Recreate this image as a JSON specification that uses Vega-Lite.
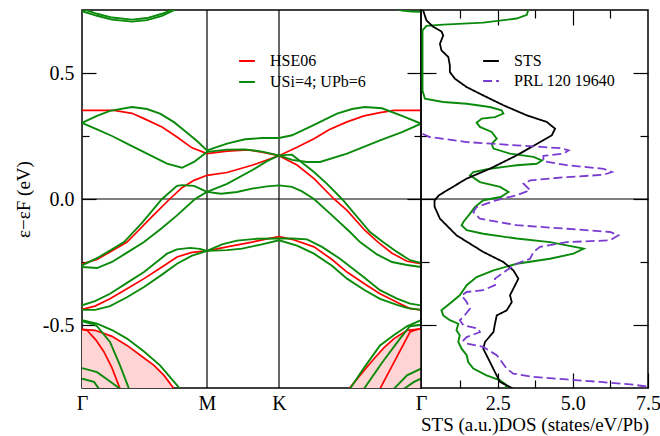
{
 "$schema": "https://vega.github.io/schema/vega-lite/v6.json",
 "padding": {"left": 13, "top": 8, "right": 2, "bottom": 0},
 "spacing": 0,
 "bounds": "flush",
 "config": {
  "view": {"stroke": "black", "strokeWidth": 1.5},
  "font": "Liberation Serif",
  "axis": {"domain": false, "grid": false, "tickColor": "black", "tickWidth": 1.2, "labelFont": "Liberation Serif", "labelFontSize": 20, "labelColor": "black", "titleFont": "Liberation Serif", "titleFontSize": 20, "titleFontWeight": "normal", "titleColor": "black", "labelFlush": false, "labelOverlap": false},
  "legend": {"labelFont": "Liberation Serif", "labelFontSize": 16, "labelColor": "black"},
  "text": {"font": "Liberation Serif"}
 },
 "datasets": {
  "pink": [
   {"p":"a","k":0,"e":-0.517},{"p":"a","k":0.13,"e":-0.521},{"p":"a","k":0.3,"e":-0.545},{"p":"a","k":0.45,"e":-0.581},{"p":"a","k":0.6,"e":-0.625},{"p":"a","k":0.72,"e":-0.66},{"p":"a","k":0.82,"e":-0.7},{"p":"a","k":0.92,"e":-0.753},
   {"p":"b","k":2.67,"e":-0.753},{"p":"b","k":2.8,"e":-0.69},{"p":"b","k":2.92,"e":-0.634},{"p":"b","k":3.02,"e":-0.59},{"p":"b","k":3.12,"e":-0.554},{"p":"b","k":3.25,"e":-0.521},{"p":"b","k":3.39,"e":-0.515}
  ],
  "bands": [
   {"m":"H","b":"R1","k":0,"e":0.352},{"m":"H","b":"R1","k":0.32,"e":0.352},{"m":"H","b":"R1","k":0.5,"e":0.34},{"m":"H","b":"R1","k":0.62,"e":0.319},{"m":"H","b":"R1","k":0.8,"e":0.286},{"m":"H","b":"R1","k":0.95,"e":0.246},{"m":"H","b":"R1","k":1.1,"e":0.203},{"m":"H","b":"R1","k":1.25,"e":0.18},{"m":"H","b":"R1","k":1.45,"e":0.19},{"m":"H","b":"R1","k":1.66,"e":0.195},{"m":"H","b":"R1","k":1.8,"e":0.186},{"m":"H","b":"R1","k":1.97,"e":0.172},{"m":"H","b":"R1","k":2.15,"e":0.205},{"m":"H","b":"R1","k":2.32,"e":0.239},{"m":"H","b":"R1","k":2.47,"e":0.275},{"m":"H","b":"R1","k":2.65,"e":0.306},{"m":"H","b":"R1","k":2.82,"e":0.33},{"m":"H","b":"R1","k":2.98,"e":0.343},{"m":"H","b":"R1","k":3.12,"e":0.352},{"m":"H","b":"R1","k":3.39,"e":0.352},
   {"m":"H","b":"R2","k":0,"e":-0.257},{"m":"H","b":"R2","k":0.15,"e":-0.24},{"m":"H","b":"R2","k":0.28,"e":-0.21},{"m":"H","b":"R2","k":0.45,"e":-0.171},{"m":"H","b":"R2","k":0.55,"e":-0.131},{"m":"H","b":"R2","k":0.7,"e":-0.07},{"m":"H","b":"R2","k":0.88,"e":0.001},{"m":"H","b":"R2","k":1,"e":0.045},{"m":"H","b":"R2","k":1.12,"e":0.074},{"m":"H","b":"R2","k":1.25,"e":0.094},{"m":"H","b":"R2","k":1.45,"e":0.105},{"m":"H","b":"R2","k":1.7,"e":0.134},{"m":"H","b":"R2","k":1.85,"e":0.155},{"m":"H","b":"R2","k":1.97,"e":0.172},{"m":"H","b":"R2","k":2.15,"e":0.135},{"m":"H","b":"R2","k":2.32,"e":0.081},{"m":"H","b":"R2","k":2.52,"e":0},{"m":"H","b":"R2","k":2.65,"e":-0.045},{"m":"H","b":"R2","k":2.83,"e":-0.125},{"m":"H","b":"R2","k":2.96,"e":-0.171},{"m":"H","b":"R2","k":3.1,"e":-0.215},{"m":"H","b":"R2","k":3.25,"e":-0.247},{"m":"H","b":"R2","k":3.39,"e":-0.257},
   {"m":"H","b":"R3","k":0,"e":-0.438},{"m":"H","b":"R3","k":0.13,"e":-0.425},{"m":"H","b":"R3","k":0.28,"e":-0.396},{"m":"H","b":"R3","k":0.45,"e":-0.356},{"m":"H","b":"R3","k":0.62,"e":-0.316},{"m":"H","b":"R3","k":0.8,"e":-0.27},{"m":"H","b":"R3","k":0.95,"e":-0.23},{"m":"H","b":"R3","k":1.1,"e":-0.212},{"m":"H","b":"R3","k":1.25,"e":-0.206},{"m":"H","b":"R3","k":1.45,"e":-0.19},{"m":"H","b":"R3","k":1.7,"e":-0.171},{"m":"H","b":"R3","k":1.85,"e":-0.158},{"m":"H","b":"R3","k":1.97,"e":-0.149},{"m":"H","b":"R3","k":2.1,"e":-0.16},{"m":"H","b":"R3","k":2.32,"e":-0.19},{"m":"H","b":"R3","k":2.5,"e":-0.24},{"m":"H","b":"R3","k":2.65,"e":-0.29},{"m":"H","b":"R3","k":2.82,"e":-0.335},{"m":"H","b":"R3","k":2.98,"e":-0.376},{"m":"H","b":"R3","k":3.15,"e":-0.41},{"m":"H","b":"R3","k":3.28,"e":-0.435},{"m":"H","b":"R3","k":3.39,"e":-0.44},
   {"m":"H","b":"R4a","k":0,"e":-0.517},{"m":"H","b":"R4a","k":0.13,"e":-0.521},{"m":"H","b":"R4a","k":0.3,"e":-0.545},{"m":"H","b":"R4a","k":0.45,"e":-0.581},{"m":"H","b":"R4a","k":0.6,"e":-0.625},{"m":"H","b":"R4a","k":0.72,"e":-0.66},{"m":"H","b":"R4a","k":0.82,"e":-0.7},{"m":"H","b":"R4a","k":0.92,"e":-0.753},
   {"m":"H","b":"R4b","k":2.67,"e":-0.753},{"m":"H","b":"R4b","k":2.8,"e":-0.69},{"m":"H","b":"R4b","k":2.92,"e":-0.634},{"m":"H","b":"R4b","k":3.02,"e":-0.59},{"m":"H","b":"R4b","k":3.12,"e":-0.554},{"m":"H","b":"R4b","k":3.25,"e":-0.521},{"m":"H","b":"R4b","k":3.39,"e":-0.515},
   {"m":"H","b":"R5a","k":0,"e":-0.517},{"m":"H","b":"R5a","k":0.05,"e":-0.521},{"m":"H","b":"R5a","k":0.14,"e":-0.56},{"m":"H","b":"R5a","k":0.22,"e":-0.607},{"m":"H","b":"R5a","k":0.3,"e":-0.67},{"m":"H","b":"R5a","k":0.38,"e":-0.753},
   {"m":"H","b":"R5b","k":2.98,"e":-0.753},{"m":"H","b":"R5b","k":3.13,"e":-0.64},{"m":"H","b":"R5b","k":3.28,"e":-0.528},{"m":"H","b":"R5b","k":3.35,"e":-0.518},{"m":"H","b":"R5b","k":3.39,"e":-0.515},
   {"m":"U","b":"G1","k":0,"e":0.302},{"m":"U","b":"G1","k":0.15,"e":0.33},{"m":"U","b":"G1","k":0.28,"e":0.35},{"m":"U","b":"G1","k":0.5,"e":0.365},{"m":"U","b":"G1","k":0.65,"e":0.357},{"m":"U","b":"G1","k":0.78,"e":0.339},{"m":"U","b":"G1","k":0.92,"e":0.305},{"m":"U","b":"G1","k":1.02,"e":0.273},{"m":"U","b":"G1","k":1.15,"e":0.23},{"m":"U","b":"G1","k":1.25,"e":0.193},{"m":"U","b":"G1","k":1.45,"e":0.22},{"m":"U","b":"G1","k":1.63,"e":0.237},{"m":"U","b":"G1","k":1.8,"e":0.242},{"m":"U","b":"G1","k":1.97,"e":0.242},{"m":"U","b":"G1","k":2.1,"e":0.253},{"m":"U","b":"G1","k":2.3,"e":0.29},{"m":"U","b":"G1","k":2.55,"e":0.339},{"m":"U","b":"G1","k":2.7,"e":0.357},{"m":"U","b":"G1","k":2.83,"e":0.365},{"m":"U","b":"G1","k":3,"e":0.36},{"m":"U","b":"G1","k":3.2,"e":0.33},{"m":"U","b":"G1","k":3.39,"e":0.299},
   {"m":"U","b":"G2","k":0,"e":0.302},{"m":"U","b":"G2","k":0.15,"e":0.276},{"m":"U","b":"G2","k":0.3,"e":0.25},{"m":"U","b":"G2","k":0.45,"e":0.22},{"m":"U","b":"G2","k":0.65,"e":0.18},{"m":"U","b":"G2","k":0.85,"e":0.14},{"m":"U","b":"G2","k":1,"e":0.124},{"m":"U","b":"G2","k":1.12,"e":0.147},{"m":"U","b":"G2","k":1.25,"e":0.187},{"m":"U","b":"G2","k":1.45,"e":0.196},{"m":"U","b":"G2","k":1.63,"e":0.197},{"m":"U","b":"G2","k":1.8,"e":0.188},{"m":"U","b":"G2","k":1.97,"e":0.173},{"m":"U","b":"G2","k":2.1,"e":0.155},{"m":"U","b":"G2","k":2.25,"e":0.147},{"m":"U","b":"G2","k":2.38,"e":0.147},{"m":"U","b":"G2","k":2.65,"e":0.18},{"m":"U","b":"G2","k":2.98,"e":0.233},{"m":"U","b":"G2","k":3.2,"e":0.265},{"m":"U","b":"G2","k":3.39,"e":0.299},
   {"m":"U","b":"G5","k":0,"e":-0.263},{"m":"U","b":"G5","k":0.15,"e":-0.235},{"m":"U","b":"G5","k":0.3,"e":-0.2},{"m":"U","b":"G5","k":0.42,"e":-0.171},{"m":"U","b":"G5","k":0.6,"e":-0.095},{"m":"U","b":"G5","k":0.8,"e":0},{"m":"U","b":"G5","k":0.95,"e":0.052},{"m":"U","b":"G5","k":1,"e":0.055},{"m":"U","b":"G5","k":1.12,"e":0.052},{"m":"U","b":"G5","k":1.25,"e":0.028},{"m":"U","b":"G5","k":1.39,"e":0.021},{"m":"U","b":"G5","k":1.55,"e":0.028},{"m":"U","b":"G5","k":1.7,"e":0.041},{"m":"U","b":"G5","k":1.85,"e":0.05},{"m":"U","b":"G5","k":1.97,"e":0.054},{"m":"U","b":"G5","k":2.1,"e":0.048},{"m":"U","b":"G5","k":2.2,"e":0.03},{"m":"U","b":"G5","k":2.32,"e":0},{"m":"U","b":"G5","k":2.5,"e":-0.065},{"m":"U","b":"G5","k":2.68,"e":-0.131},{"m":"U","b":"G5","k":2.78,"e":-0.171},{"m":"U","b":"G5","k":2.95,"e":-0.22},{"m":"U","b":"G5","k":3.1,"e":-0.25},{"m":"U","b":"G5","k":3.25,"e":-0.262},{"m":"U","b":"G5","k":3.39,"e":-0.27},
   {"m":"U","b":"G6","k":0,"e":-0.27},{"m":"U","b":"G6","k":0.15,"e":-0.274},{"m":"U","b":"G6","k":0.3,"e":-0.25},{"m":"U","b":"G6","k":0.45,"e":-0.213},{"m":"U","b":"G6","k":0.62,"e":-0.171},{"m":"U","b":"G6","k":0.8,"e":-0.115},{"m":"U","b":"G6","k":0.95,"e":-0.065},{"m":"U","b":"G6","k":1.13,"e":0},{"m":"U","b":"G6","k":1.25,"e":0.028},{"m":"U","b":"G6","k":1.45,"e":0.06},{"m":"U","b":"G6","k":1.7,"e":0.114},{"m":"U","b":"G6","k":1.85,"e":0.15},{"m":"U","b":"G6","k":1.97,"e":0.173},{"m":"U","b":"G6","k":2.1,"e":0.176},{"m":"U","b":"G6","k":2.32,"e":0.107},{"m":"U","b":"G6","k":2.45,"e":0.06},{"m":"U","b":"G6","k":2.6,"e":0},{"m":"U","b":"G6","k":2.88,"e":-0.131},{"m":"U","b":"G6","k":3.01,"e":-0.171},{"m":"U","b":"G6","k":3.15,"e":-0.21},{"m":"U","b":"G6","k":3.28,"e":-0.243},{"m":"U","b":"G6","k":3.39,"e":-0.254},
   {"m":"U","b":"G7","k":0,"e":-0.422},{"m":"U","b":"G7","k":0.13,"e":-0.405},{"m":"U","b":"G7","k":0.28,"e":-0.376},{"m":"U","b":"G7","k":0.45,"e":-0.333},{"m":"U","b":"G7","k":0.62,"e":-0.29},{"m":"U","b":"G7","k":0.85,"e":-0.217},{"m":"U","b":"G7","k":0.95,"e":-0.2},{"m":"U","b":"G7","k":1.08,"e":-0.194},{"m":"U","b":"G7","k":1.18,"e":-0.198},{"m":"U","b":"G7","k":1.25,"e":-0.206},{"m":"U","b":"G7","k":1.4,"e":-0.18},{"m":"U","b":"G7","k":1.55,"e":-0.165},{"m":"U","b":"G7","k":1.75,"e":-0.158},{"m":"U","b":"G7","k":1.97,"e":-0.157},{"m":"U","b":"G7","k":2.1,"e":-0.157},{"m":"U","b":"G7","k":2.25,"e":-0.16},{"m":"U","b":"G7","k":2.4,"e":-0.19},{"m":"U","b":"G7","k":2.58,"e":-0.237},{"m":"U","b":"G7","k":2.8,"e":-0.305},{"m":"U","b":"G7","k":2.98,"e":-0.362},{"m":"U","b":"G7","k":3.15,"e":-0.395},{"m":"U","b":"G7","k":3.28,"e":-0.415},{"m":"U","b":"G7","k":3.39,"e":-0.422},
   {"m":"U","b":"G8","k":0,"e":-0.44},{"m":"U","b":"G8","k":0.13,"e":-0.44},{"m":"U","b":"G8","k":0.28,"e":-0.425},{"m":"U","b":"G8","k":0.45,"e":-0.39},{"m":"U","b":"G8","k":0.62,"e":-0.349},{"m":"U","b":"G8","k":0.8,"e":-0.3},{"m":"U","b":"G8","k":0.95,"e":-0.257},{"m":"U","b":"G8","k":1.1,"e":-0.225},{"m":"U","b":"G8","k":1.25,"e":-0.206},{"m":"U","b":"G8","k":1.45,"e":-0.203},{"m":"U","b":"G8","k":1.6,"e":-0.197},{"m":"U","b":"G8","k":1.8,"e":-0.18},{"m":"U","b":"G8","k":1.97,"e":-0.164},{"m":"U","b":"G8","k":2.15,"e":-0.185},{"m":"U","b":"G8","k":2.32,"e":-0.217},{"m":"U","b":"G8","k":2.5,"e":-0.265},{"m":"U","b":"G8","k":2.65,"e":-0.316},{"m":"U","b":"G8","k":2.82,"e":-0.36},{"m":"U","b":"G8","k":2.98,"e":-0.396},{"m":"U","b":"G8","k":3.15,"e":-0.42},{"m":"U","b":"G8","k":3.25,"e":-0.432},{"m":"U","b":"G8","k":3.39,"e":-0.44},
   {"m":"U","b":"G9a","k":0,"e":-0.481},{"m":"U","b":"G9a","k":0.15,"e":-0.495},{"m":"U","b":"G9a","k":0.3,"e":-0.52},{"m":"U","b":"G9a","k":0.45,"e":-0.554},{"m":"U","b":"G9a","k":0.62,"e":-0.605},{"m":"U","b":"G9a","k":0.78,"e":-0.66},{"m":"U","b":"G9a","k":0.98,"e":-0.753},
   {"m":"U","b":"G9b","k":2.68,"e":-0.753},{"m":"U","b":"G9b","k":2.82,"e":-0.67},{"m":"U","b":"G9b","k":2.98,"e":-0.581},{"m":"U","b":"G9b","k":3.12,"e":-0.54},{"m":"U","b":"G9b","k":3.25,"e":-0.505},{"m":"U","b":"G9b","k":3.39,"e":-0.481},
   {"m":"U","b":"G10a","k":0,"e":-0.485},{"m":"U","b":"G10a","k":0.1,"e":-0.495},{"m":"U","b":"G10a","k":0.15,"e":-0.505},{"m":"U","b":"G10a","k":0.28,"e":-0.567},{"m":"U","b":"G10a","k":0.38,"e":-0.66},{"m":"U","b":"G10a","k":0.47,"e":-0.753},
   {"m":"U","b":"G10b","k":2.82,"e":-0.753},{"m":"U","b":"G10b","k":3,"e":-0.65},{"m":"U","b":"G10b","k":3.18,"e":-0.554},{"m":"U","b":"G10b","k":3.28,"e":-0.505},{"m":"U","b":"G10b","k":3.39,"e":-0.499},
   {"m":"U","b":"G11a","k":0,"e":-0.671},{"m":"U","b":"G11a","k":0.15,"e":-0.687},{"m":"U","b":"G11a","k":0.25,"e":-0.715},{"m":"U","b":"G11a","k":0.38,"e":-0.753},
   {"m":"U","b":"G11b","k":3.12,"e":-0.753},{"m":"U","b":"G11b","k":3.25,"e":-0.7},{"m":"U","b":"G11b","k":3.39,"e":-0.673},
   {"m":"U","b":"G12a","k":0,"e":-0.713},{"m":"U","b":"G12a","k":0.12,"e":-0.726},{"m":"U","b":"G12a","k":0.17,"e":-0.753},
   {"m":"U","b":"G12b","k":3.22,"e":-0.753},{"m":"U","b":"G12b","k":3.32,"e":-0.726},{"m":"U","b":"G12b","k":3.39,"e":-0.713},
   {"m":"U","b":"Gt1","k":0,"e":0.755},{"m":"U","b":"Gt1","k":0.15,"e":0.735},{"m":"U","b":"Gt1","k":0.3,"e":0.72},{"m":"U","b":"Gt1","k":0.5,"e":0.712},{"m":"U","b":"Gt1","k":0.65,"e":0.718},{"m":"U","b":"Gt1","k":0.8,"e":0.735},{"m":"U","b":"Gt1","k":0.95,"e":0.758},
   {"m":"U","b":"Gt2","k":0,"e":0.745},{"m":"U","b":"Gt2","k":0.15,"e":0.727},{"m":"U","b":"Gt2","k":0.3,"e":0.712},{"m":"U","b":"Gt2","k":0.5,"e":0.704},{"m":"U","b":"Gt2","k":0.65,"e":0.71},{"m":"U","b":"Gt2","k":0.8,"e":0.727},{"m":"U","b":"Gt2","k":0.95,"e":0.755},
   {"m":"U","b":"Gt3","k":3.1,"e":0.76},{"m":"U","b":"Gt3","k":3.2,"e":0.748},{"m":"U","b":"Gt3","k":3.3,"e":0.744},{"m":"U","b":"Gt3","k":3.39,"e":0.743}
  ],
  "dos": [
   {"s":"STS","d":0.02,"e":0.749},{"s":"STS","d":0.13,"e":0.709},{"s":"STS","d":0.36,"e":0.683},{"s":"STS","d":0.63,"e":0.665},{"s":"STS","d":0.69,"e":0.649},{"s":"STS","d":0.58,"e":0.616},{"s":"STS","d":0.63,"e":0.59},{"s":"STS","d":0.86,"e":0.563},{"s":"STS","d":0.91,"e":0.53},{"s":"STS","d":0.91,"e":0.504},{"s":"STS","d":1.08,"e":0.477},{"s":"STS","d":1.47,"e":0.444},{"s":"STS","d":2.02,"e":0.411},{"s":"STS","d":2.69,"e":0.372},{"s":"STS","d":3.47,"e":0.332},{"s":"STS","d":4.13,"e":0.306},{"s":"STS","d":4.41,"e":0.279},{"s":"STS","d":4.3,"e":0.253},{"s":"STS","d":3.91,"e":0.226},{"s":"STS","d":3.13,"e":0.173},{"s":"STS","d":2.24,"e":0.12},{"s":"STS","d":1.47,"e":0.081},{"s":"STS","d":0.91,"e":0.041},{"s":"STS","d":0.55,"e":0.015},{"s":"STS","d":0.4,"e":-0.005},{"s":"STS","d":0.4,"e":-0.03},{"s":"STS","d":0.58,"e":-0.078},{"s":"STS","d":1.13,"e":-0.144},{"s":"STS","d":2.02,"e":-0.21},{"s":"STS","d":2.69,"e":-0.25},{"s":"STS","d":3.02,"e":-0.283},{"s":"STS","d":3.19,"e":-0.316},{"s":"STS","d":3.02,"e":-0.356},{"s":"STS","d":2.91,"e":-0.382},{"s":"STS","d":2.97,"e":-0.409},{"s":"STS","d":2.8,"e":-0.442},{"s":"STS","d":2.47,"e":-0.462},{"s":"STS","d":2.41,"e":-0.495},{"s":"STS","d":2.36,"e":-0.528},{"s":"STS","d":2.08,"e":-0.567},{"s":"STS","d":2.02,"e":-0.594},{"s":"STS","d":2.19,"e":-0.634},{"s":"STS","d":2.41,"e":-0.687},{"s":"STS","d":2.58,"e":-0.726},{"s":"STS","d":3.02,"e":-0.753},
   {"s":"PRL 120 19640","d":0,"e":0.259},{"s":"PRL 120 19640","d":0.24,"e":0.246},{"s":"PRL 120 19640","d":1.47,"e":0.226},{"s":"PRL 120 19640","d":3.13,"e":0.213},{"s":"PRL 120 19640","d":4.58,"e":0.202},{"s":"PRL 120 19640","d":4.86,"e":0.193},{"s":"PRL 120 19640","d":4.69,"e":0.18},{"s":"PRL 120 19640","d":4.02,"e":0.171},{"s":"PRL 120 19640","d":4.02,"e":0.15},{"s":"PRL 120 19640","d":4.8,"e":0.134},{"s":"PRL 120 19640","d":6.02,"e":0.12},{"s":"PRL 120 19640","d":6.3,"e":0.107},{"s":"PRL 120 19640","d":6.02,"e":0.096},{"s":"PRL 120 19640","d":4.8,"e":0.087},{"s":"PRL 120 19640","d":3.58,"e":0.074},{"s":"PRL 120 19640","d":3.36,"e":0.061},{"s":"PRL 120 19640","d":3.58,"e":0.035},{"s":"PRL 120 19640","d":3.13,"e":0.015},{"s":"PRL 120 19640","d":2.45,"e":-0.005},{"s":"PRL 120 19640","d":1.8,"e":-0.032},{"s":"PRL 120 19640","d":1.69,"e":-0.052},{"s":"PRL 120 19640","d":1.91,"e":-0.078},{"s":"PRL 120 19640","d":3.13,"e":-0.104},{"s":"PRL 120 19640","d":4.8,"e":-0.118},{"s":"PRL 120 19640","d":6.24,"e":-0.131},{"s":"PRL 120 19640","d":6.52,"e":-0.144},{"s":"PRL 120 19640","d":6.24,"e":-0.164},{"s":"PRL 120 19640","d":4.8,"e":-0.171},{"s":"PRL 120 19640","d":3.91,"e":-0.19},{"s":"PRL 120 19640","d":3.69,"e":-0.21},{"s":"PRL 120 19640","d":3.58,"e":-0.237},{"s":"PRL 120 19640","d":3.13,"e":-0.257},{"s":"PRL 120 19640","d":2.8,"e":-0.283},{"s":"PRL 120 19640","d":2.41,"e":-0.316},{"s":"PRL 120 19640","d":2.41,"e":-0.342},{"s":"PRL 120 19640","d":2.02,"e":-0.362},{"s":"PRL 120 19640","d":1.47,"e":-0.369},{"s":"PRL 120 19640","d":1.3,"e":-0.382},{"s":"PRL 120 19640","d":1.47,"e":-0.409},{"s":"PRL 120 19640","d":1.58,"e":-0.435},{"s":"PRL 120 19640","d":1.36,"e":-0.468},{"s":"PRL 120 19640","d":1.24,"e":-0.481},{"s":"PRL 120 19640","d":1.36,"e":-0.501},{"s":"PRL 120 19640","d":1.86,"e":-0.515},{"s":"PRL 120 19640","d":1.91,"e":-0.528},{"s":"PRL 120 19640","d":1.47,"e":-0.548},{"s":"PRL 120 19640","d":1.36,"e":-0.561},{"s":"PRL 120 19640","d":1.47,"e":-0.574},{"s":"PRL 120 19640","d":2.02,"e":-0.587},{"s":"PRL 120 19640","d":2.47,"e":-0.62},{"s":"PRL 120 19640","d":2.8,"e":-0.673},{"s":"PRL 120 19640","d":3.02,"e":-0.693},{"s":"PRL 120 19640","d":3.69,"e":-0.706},{"s":"PRL 120 19640","d":4.8,"e":-0.716},{"s":"PRL 120 19640","d":5.91,"e":-0.726},{"s":"PRL 120 19640","d":7.02,"e":-0.737},{"s":"PRL 120 19640","d":7.5,"e":-0.745},
   {"s":"U","d":3.52,"e":0.752},{"s":"U","d":3.47,"e":0.731},{"s":"U","d":3.13,"e":0.716},{"s":"U","d":2.02,"e":0.7},{"s":"U","d":0.69,"e":0.692},{"s":"U","d":0.13,"e":0.687},{"s":"U","d":0,"e":0.669},{"s":"U","d":0,"e":0.43},{"s":"U","d":0.08,"e":0.398},{"s":"U","d":0.69,"e":0.385},{"s":"U","d":1.47,"e":0.378},{"s":"U","d":2.24,"e":0.365},{"s":"U","d":2.63,"e":0.352},{"s":"U","d":2.69,"e":0.339},{"s":"U","d":2.41,"e":0.325},{"s":"U","d":1.97,"e":0.319},{"s":"U","d":1.8,"e":0.303},{"s":"U","d":1.91,"e":0.286},{"s":"U","d":2.3,"e":0.266},{"s":"U","d":2.47,"e":0.239},{"s":"U","d":2.3,"e":0.219},{"s":"U","d":2.36,"e":0.2},{"s":"U","d":2.91,"e":0.18},{"s":"U","d":3.69,"e":0.167},{"s":"U","d":3.97,"e":0.153},{"s":"U","d":3.8,"e":0.14},{"s":"U","d":3.13,"e":0.134},{"s":"U","d":2.24,"e":0.12},{"s":"U","d":1.69,"e":0.107},{"s":"U","d":1.58,"e":0.094},{"s":"U","d":1.91,"e":0.067},{"s":"U","d":2.58,"e":0.048},{"s":"U","d":2.86,"e":0.028},{"s":"U","d":2.6,"e":0.008},{"s":"U","d":2.02,"e":-0.005},{"s":"U","d":1.74,"e":-0.032},{"s":"U","d":1.58,"e":-0.058},{"s":"U","d":1.36,"e":-0.091},{"s":"U","d":1.3,"e":-0.104},{"s":"U","d":1.47,"e":-0.124},{"s":"U","d":2.02,"e":-0.138},{"s":"U","d":3.13,"e":-0.157},{"s":"U","d":4.24,"e":-0.171},{"s":"U","d":5.36,"e":-0.197},{"s":"U","d":5.02,"e":-0.217},{"s":"U","d":4.24,"e":-0.237},{"s":"U","d":3.13,"e":-0.257},{"s":"U","d":2.36,"e":-0.283},{"s":"U","d":1.8,"e":-0.31},{"s":"U","d":1.47,"e":-0.342},{"s":"U","d":1.24,"e":-0.382},{"s":"U","d":0.91,"e":-0.415},{"s":"U","d":0.63,"e":-0.442},{"s":"U","d":0.69,"e":-0.462},{"s":"U","d":0.91,"e":-0.481},{"s":"U","d":1.19,"e":-0.495},{"s":"U","d":1.13,"e":-0.521},{"s":"U","d":1.24,"e":-0.541},{"s":"U","d":1.19,"e":-0.567},{"s":"U","d":1.3,"e":-0.594},{"s":"U","d":1.47,"e":-0.62},{"s":"U","d":1.52,"e":-0.647},{"s":"U","d":1.69,"e":-0.673},{"s":"U","d":2.13,"e":-0.7},{"s":"U","d":2.58,"e":-0.72},{"s":"U","d":2.8,"e":-0.739},{"s":"U","d":2.74,"e":-0.753}
  ]
 },
 "hconcat": [
  {
   "width": 339, "height": 378,
   "layer": [
    {"data": {"name": "pink"}, "mark": {"type": "area", "color": "#ffd4d4", "clip": true},
     "encoding": {
      "x": {"field": "k", "type": "quantitative", "scale": {"domain": [0, 3.39], "nice": false, "zero": false},
            "axis": {"orient": "bottom", "values": [0, 1.25, 1.97, 3.39], "ticks": false, "labelPadding": 5, "labelFont": "Liberation Serif", "labelFontSize": 20, "title": null,
                     "labelExpr": "datum.value < 0.1 || datum.value > 3 ? 'Γ' : (datum.value < 1.5 ? 'M' : 'K')"}},
      "y": {"field": "e", "type": "quantitative", "scale": {"domain": [-0.75, 0.75], "nice": false, "zero": false},
            "axis": {"orient": "left", "values": [-0.5, 0, 0.5], "tickSize": -14, "labelPadding": 22, "labelFont": "Liberation Serif", "labelFontSize": 20,
                     "title": "ε−εF (eV)", "titleFont": "Liberation Serif", "titleFontSize": 19, "titlePadding": 9,
                     "labelExpr": "(datum.value < 0 ? '-' : '') + format(abs(datum.value), '.1f')"}},
      "y2": {"datum": -0.75},
      "detail": {"field": "p"}
     }},
    {"data": {"values": [{"k": 1.25}, {"k": 1.97}]}, "mark": {"type": "rule", "color": "black", "strokeWidth": 1.2},
     "encoding": {"x": {"field": "k", "type": "quantitative", "axis": null}}},
    {"data": {"values": [{"e": 0}]}, "mark": {"type": "rule", "color": "black", "strokeWidth": 1.2},
     "encoding": {"y": {"field": "e", "type": "quantitative", "axis": {"orient": "left", "values": [-0.25, 0.25], "tickSize": -7, "labels": false, "title": null}}}},
    {"data": {"name": "bands"}, "transform": [{"filter": "datum.m == 'H'"}], "mark": {"type": "line", "strokeWidth": 1.7, "clip": true},
     "encoding": {
      "x": {"field": "k", "type": "quantitative", "axis": null},
      "y": {"field": "e", "type": "quantitative", "axis": {"orient": "right", "values": [-0.5, 0, 0.5], "tickSize": -14, "labels": false, "title": null}},
      "color": {"field": "m", "type": "nominal", "scale": {"domain": ["H", "U"], "range": ["#ff0000", "#0a8a0a"]},
                "legend": {"orient": "none", "legendX": 156, "legendY": 42, "title": null, "symbolType": "stroke", "symbolStrokeWidth": 2, "symbolSize": 250, "labelFont": "Liberation Serif", "labelFontSize": 16, "rowPadding": 4, "labelOffset": 14, "padding": 0,
                           "labelExpr": "datum.label == 'H' ? 'HSE06' : 'USi=4; UPb=6'"}},
      "detail": {"field": "b"}
     }},
    {"data": {"name": "bands"}, "transform": [{"filter": "datum.m == 'U'"}], "mark": {"type": "line", "strokeWidth": 1.9, "clip": true},
     "encoding": {
      "x": {"field": "k", "type": "quantitative", "axis": null},
      "y": {"field": "e", "type": "quantitative", "axis": {"orient": "right", "values": [-0.25, 0.25], "tickSize": -7, "labels": false, "title": null}},
      "color": {"field": "m", "type": "nominal"},
      "detail": {"field": "b"}
     }}
   ],
   "resolve": {"axis": {"x": "independent", "y": "independent"}}
  },
  {
   "width": 227, "height": 378,
   "layer": [
    {"data": {"values": [{"e": 0}]}, "mark": {"type": "rule", "color": "black", "strokeWidth": 1.2},
     "encoding": {
      "x": {"datum": -0.05, "axis": {"orient": "bottom", "values": [1.25, 3.75, 6.25], "tickSize": -8, "labels": false, "title": null}},
      "x2": {"datum": 7.5},
      "y": {"field": "e", "type": "quantitative", "scale": {"domain": [-0.75, 0.75], "nice": false, "zero": false},
            "axis": {"orient": "left", "values": [-0.5, 0, 0.5], "tickSize": -15, "labels": false, "title": null}}
     }},
    {"data": {"name": "dos"}, "transform": [{"filter": "datum.s == 'U'"}], "mark": {"type": "line", "color": "#0a8a0a", "strokeWidth": 1.9, "clip": true},
     "encoding": {
      "x": {"field": "d", "type": "quantitative", "scale": {"domain": [-0.05, 7.5], "nice": false, "zero": false},
            "axis": {"orient": "bottom", "values": [2.5, 5, 7.5], "format": ".1f", "tickSize": -15, "labelPadding": 20, "labelFont": "Liberation Serif", "labelFontSize": 20,
                     "title": "STS (a.u.)DOS (states/eV/Pb)", "titleFont": "Liberation Serif", "titleFontSize": 19, "titlePadding": 2}},
      "y": {"field": "e", "type": "quantitative", "axis": {"orient": "left", "values": [-0.25, 0.25], "tickSize": -8, "labels": false, "title": null}},
      "order": {"field": "e", "sort": "descending"}
     }},
    {"data": {"name": "dos"}, "transform": [{"filter": "datum.s == 'STS'"}], "mark": {"type": "line", "strokeWidth": 1.8, "clip": true},
     "encoding": {
      "x": {"field": "d", "type": "quantitative", "axis": {"orient": "top", "values": [2.5, 5], "tickSize": -15, "labels": false, "title": null}},
      "y": {"field": "e", "type": "quantitative", "axis": {"orient": "right", "values": [-0.5, 0, 0.5], "tickSize": -15, "labels": false, "title": null}},
      "order": {"field": "e", "sort": "descending"},
      "color": {"field": "s", "type": "nominal", "scale": {"domain": ["STS", "PRL 120 19640"], "range": ["#000000", "#7a3cd0"]},
                "legend": {"orient": "none", "legendX": 61, "legendY": 42, "title": null, "symbolType": "stroke", "symbolStrokeWidth": 2, "symbolSize": 250, "labelFont": "Liberation Serif", "labelFontSize": 16, "rowPadding": 3, "labelOffset": 14, "padding": 0}},
      "strokeDash": {"field": "s", "type": "nominal", "scale": {"domain": ["STS", "PRL 120 19640"], "range": [[1, 0], [9, 4]]},
                "legend": {"orient": "none", "legendX": 61, "legendY": 42, "title": null, "symbolType": "stroke", "symbolStrokeWidth": 2, "symbolSize": 250, "labelFont": "Liberation Serif", "labelFontSize": 16, "rowPadding": 3, "labelOffset": 14, "padding": 0}}
     }},
    {"data": {"name": "dos"}, "transform": [{"filter": "datum.s == 'PRL 120 19640'"}], "mark": {"type": "line", "strokeWidth": 1.8, "clip": true},
     "encoding": {
      "x": {"field": "d", "type": "quantitative", "axis": {"orient": "top", "values": [1.25, 3.75, 6.25], "tickSize": -8, "labels": false, "title": null}},
      "y": {"field": "e", "type": "quantitative", "axis": {"orient": "right", "values": [-0.25, 0.25], "tickSize": -8, "labels": false, "title": null}},
      "order": {"field": "e", "sort": "descending"},
      "color": {"field": "s", "type": "nominal"},
      "strokeDash": {"field": "s", "type": "nominal"}
     }}
   ],
   "resolve": {"axis": {"x": "independent", "y": "independent"}}
  }
 ],
 "resolve": {"scale": {"color": "independent", "strokeDash": "independent"}, "legend": {"color": "independent", "strokeDash": "independent"}}
}
